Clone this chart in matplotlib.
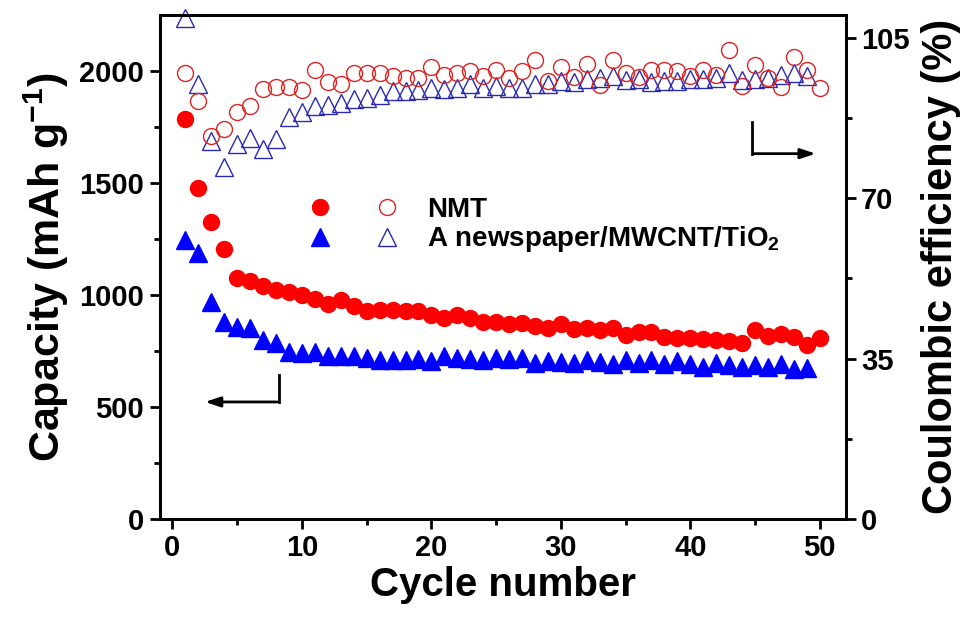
import numpy as np
import matplotlib
matplotlib.use('Agg')
import matplotlib.pyplot as plt
from matplotlib.legend_handler import HandlerTuple
from matplotlib.lines import Line2D

plt.rcParams['font.family'] = ['Liberation Sans', 'DejaVu Sans']
plt.rcParams['font.weight'] = 'bold'
plt.rcParams['mathtext.fontset'] = 'custom'
plt.rcParams['mathtext.rm'] = 'Liberation Sans:bold'
plt.rcParams['mathtext.default'] = 'rm'

# data
cycles_nmt = np.arange(1, 51)
cycles_news = np.arange(1, 50)

nmt_cap = [1784, 1476, 1327, 1204, 1077, 1062, 1040, 1022, 1012, 1000,
           982, 960, 975, 951, 926, 933, 933, 926, 926, 911,
           896, 911, 896, 881, 881, 870, 876, 859, 851, 868,
           847, 851, 841, 851, 821, 832, 836, 812, 806, 806,
           802, 799, 792, 784, 841, 817, 826, 814, 777, 806]

nmt_ce = [97.4, 91.3, 83.6, 85.1, 88.7, 90.0, 93.9, 94.3, 94.3, 93.7,
          97.9, 95.3, 94.8, 97.3, 97.3, 97.3, 96.7, 96.2, 96.2, 98.6,
          96.8, 97.3, 97.8, 96.6, 97.9, 96.2, 97.7, 100.1, 95.5, 98.6,
          96.4, 99.3, 94.6, 100.1, 97.3, 96.4, 97.9, 97.9, 97.7, 96.6,
          98.0, 96.9, 102.3, 94.5, 99.1, 96.2, 94.3, 100.9, 98.0, 94.0]

news_cap = [1245, 1186, 970, 881, 858, 851, 799, 784, 747, 740,
            747, 725, 725, 725, 717, 710, 710, 710, 713, 707,
            725, 717, 713, 710, 717, 713, 717, 695, 707, 702,
            695, 710, 702, 692, 710, 698, 710, 692, 705, 690,
            680, 698, 685, 680, 688, 680, 690, 670, 675]

news_ce = [109.4, 95.0, 82.4, 76.7, 81.7, 83.1, 80.7, 83.0, 87.6, 88.9,
           90.2, 90.4, 90.8, 91.6, 91.8, 92.6, 93.3, 93.4, 93.7, 94.0,
           93.8, 94.0, 94.8, 94.0, 94.5, 94.0, 94.1, 95.0, 94.8, 95.5,
           95.3, 95.9, 96.2, 96.6, 95.7, 95.9, 95.3, 95.5, 95.5, 95.9,
           95.9, 96.2, 97.4, 95.7, 96.0, 96.2, 96.9, 97.3, 96.6]

fig = plt.figure(figsize=(9.61, 6.17), dpi=100)
ax = fig.add_axes([0.166, 0.159, 0.714, 0.817])
ax2 = ax.twinx()

red = '#ff0000'
red_open = '#dd2222'
blue = '#0000ff'
blue_open = '#2a2ab0'

# capacity (left)
ax.plot(cycles_news, news_cap, ls='none', marker='^', ms=13, color=blue, mec=blue)
ax.plot(cycles_nmt, nmt_cap, ls='none', marker='o', ms=11.5, color=red, mec=red)

# coulombic efficiency (right)
ax2.plot(cycles_news, news_ce, ls='none', marker='^', ms=13, mfc='none',
         mec=blue_open, mew=1.0, clip_on=False)
ax2.plot(cycles_nmt, nmt_ce, ls='none', marker='o', ms=11.5, mfc='none',
         mec=red_open, mew=1.0, clip_on=False)

ax.set_xlim(-1, 52)
ax.set_ylim(0, 2250)
ax2.set_ylim(0, 110)

ax.set_xticks([0, 10, 20, 30, 40, 50])
ax.set_xticks([5, 15, 25, 35, 45], minor=True)
ax.set_yticks([0, 500, 1000, 1500, 2000])
ax.set_yticks([250, 750, 1250, 1750], minor=True)
ax2.set_yticks([0, 35, 70, 105])
ax2.set_yticks([17.5, 52.5, 87.5], minor=True)

for a in (ax, ax2):
    for s in a.spines.values():
        s.set_linewidth(2.0)
    a.tick_params(which='major', direction='out', length=7, width=2, labelsize=21, pad=4)
    a.tick_params(which='minor', direction='out', length=4, width=2)

ax.set_xlabel('Cycle number', fontsize=29, fontweight='bold', labelpad=3)
ax.set_ylabel('Capacity (mAh g$^{-1}$)', fontsize=31, fontweight='bold', labelpad=6)
ax2.set_ylabel('Coulombic efficiency (%)', fontsize=30, fontweight='bold', labelpad=8)

# arrows pointing to each axis
ax.plot([8.2, 8.2], [643, 522], color='black', lw=2)
ax.annotate('', xy=(2.3, 522), xytext=(8.3, 522),
            arrowprops=dict(arrowstyle='-|>,head_length=0.9,head_width=0.3', color='black', lw=2))
ax2.plot([44.8, 44.8], [86.5, 79.7], color='black', lw=2)
ax2.annotate('', xy=(49.9, 79.7), xytext=(44.7, 79.7),
             arrowprops=dict(arrowstyle='-|>,head_length=0.9,head_width=0.3', color='black', lw=2))

# legend: filled + open marker pairs
h_nmt = (Line2D([], [], ls='none', marker='o', ms=11.5, color=red),
         Line2D([], [], ls='none', marker='o', ms=11.5, mfc='none', mec=red_open, mew=1.0))
h_news = (Line2D([], [], ls='none', marker='^', ms=13, color=blue),
          Line2D([], [], ls='none', marker='^', ms=13, mfc='none', mec=blue_open, mew=1.0))
ax2.legend([h_nmt, h_news], ['NMT', 'A newspaper/MWCNT/TiO$_2$'],
           handler_map={tuple: HandlerTuple(ndivide=None, pad=0.8)},
           loc='upper left', bbox_to_anchor=(0.165, 0.688), frameon=False,
           fontsize=20, handlelength=4.0, handletextpad=0.67, labelspacing=0.05)

fig.savefig('out.png', dpi=100)
